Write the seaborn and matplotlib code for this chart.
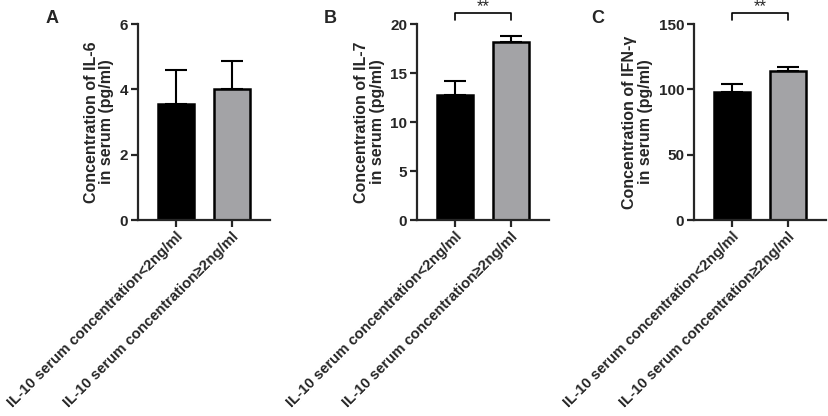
import pandas as pd
import seaborn as sns
import matplotlib.pyplot as plt

# data
groups = ['IL-10 serum concentration<2ng/ml', 'IL-10 serum concentration≥2ng/ml']
il6_mean = [3.55, 4.02]
il6_sd = [1.05, 0.86]
il7_mean = [12.8, 18.2]
il7_sd = [1.4, 0.55]
ifng_mean = [97.7, 114.0]
ifng_sd = [6.1, 3.3]

panels = [
    ('A', il6_mean, il6_sd, 'Concentration of IL-6\nin serum (pg/ml)', 6, [0, 2, 4, 6], None),
    ('B', il7_mean, il7_sd, 'Concentration of IL-7\nin serum (pg/ml)', 20, [0, 5, 10, 15, 20], '**'),
    ('C', ifng_mean, ifng_sd, 'Concentration of IFN-\u03b3\nin serum (pg/ml)', 150, [0, 50, 100, 150], '**'),
]

sns.set_style('ticks')
plt.rcParams['font.family'] = ['Liberation Sans', 'DejaVu Sans']
plt.rcParams['font.weight'] = 'bold'
plt.rcParams['axes.labelweight'] = 'bold'

fig = plt.figure(figsize=(8.29, 4.16), dpi=100)
lefts = [0.1665, 0.503, 0.837]
letter_x = [0.055, 0.390, 0.713]
colors = ['black', '#a3a3a7']

for (letter, mean, sd, ylab, ymax, ticks, sig), left, lx in zip(panels, lefts, letter_x):
    ax = fig.add_axes([left, 0.471, 0.159, 0.471])
    df = pd.DataFrame({'group': groups, 'value': mean})
    sns.barplot(data=df, x='group', y='value', hue='group', palette=colors,
                legend=False, width=0.64, edgecolor='black', linewidth=1.8, ax=ax)
    ax.errorbar([0, 1], mean, yerr=[[0, 0], sd], fmt='none', ecolor='black',
                elinewidth=1.5, capsize=8, capthick=1.5, zorder=1)
    ax.set_xlim(-0.68, 1.68)
    ax.set_ylim(0, ymax)
    ax.set_yticks(ticks)
    ax.set_xlabel('')
    ax.set_ylabel(ylab, fontsize=11.5, fontweight='bold', linespacing=1.05, labelpad=4)
    ax.set_xticks([0, 1])
    ax.set_xticklabels(groups, rotation=45, ha='right', rotation_mode='anchor',
                       fontsize=10.7, fontweight='bold')
    for t in ax.get_yticklabels():
        t.set_fontweight('bold')
        t.set_fontsize(11)
    sns.despine(ax=ax)
    for s in ['left', 'bottom']:
        ax.spines[s].set_linewidth(1.6)
    ax.tick_params(width=1.6, length=5, pad=2)
    if sig:
        y = ymax * 1.055
        ax.plot([0, 0, 1, 1], [y * 0.97, y, y, y * 0.97], color='black', lw=1.2, clip_on=False)
        ax.text(0.5, y * 0.995, sig, ha='center', va='bottom', fontsize=12, fontweight='normal')
    fig.text(lx, 0.955, letter, fontsize=13, fontweight='bold', va='center')

fig.savefig('out.png', dpi=100)
